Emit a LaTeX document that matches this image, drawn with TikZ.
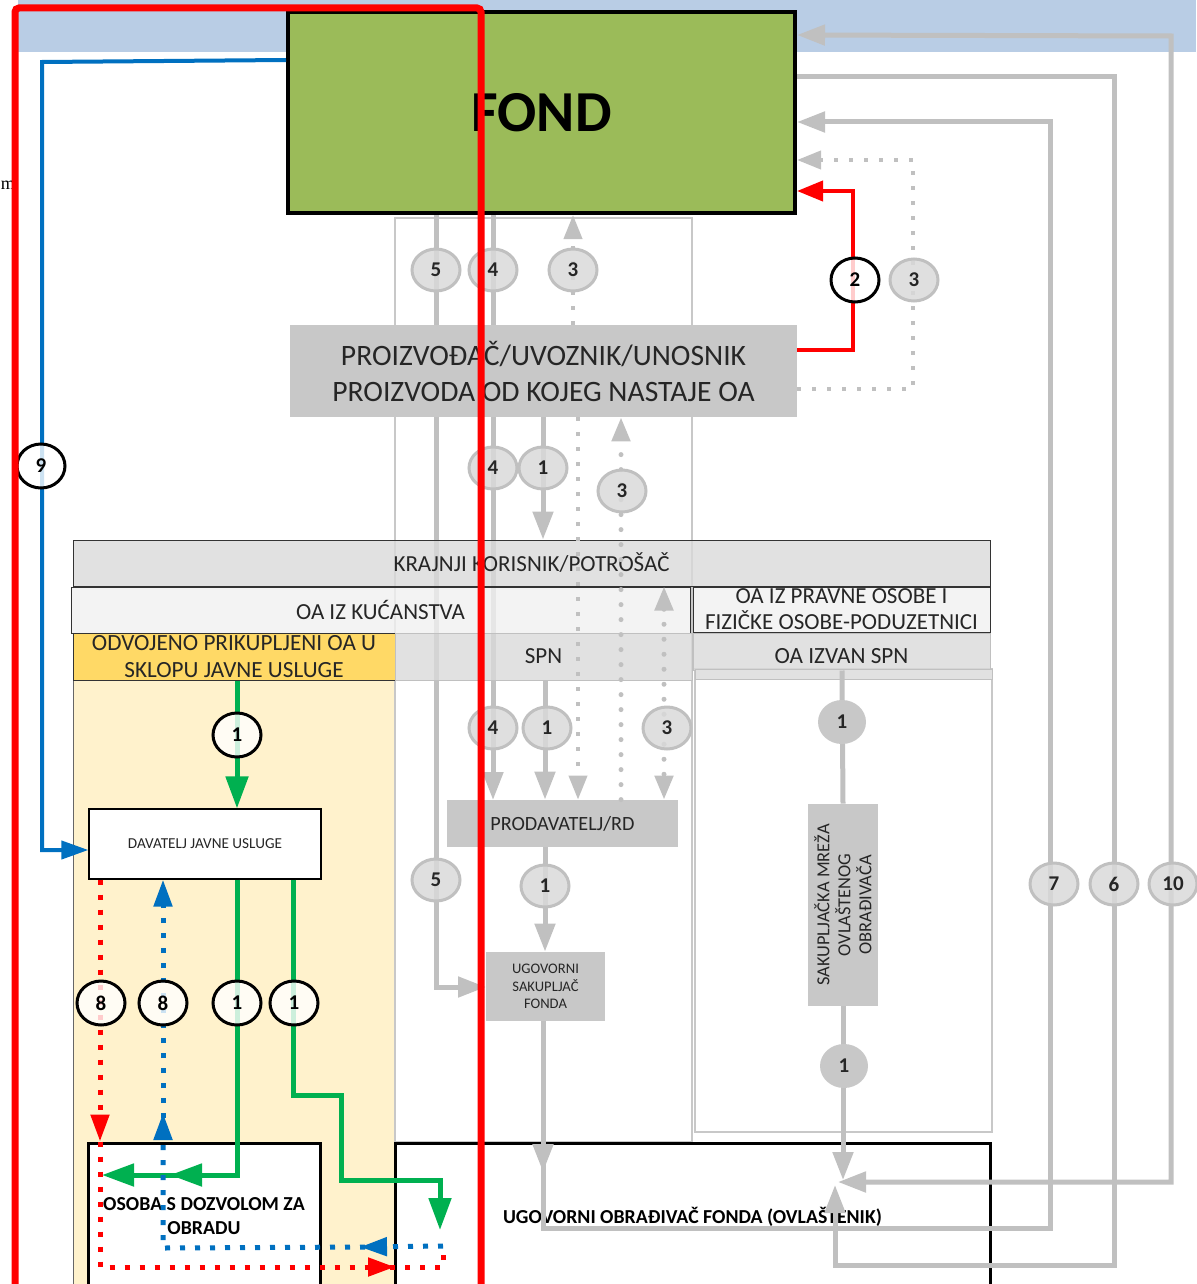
\documentclass[tikz,border=0pt]{standalone}
\usepackage{fontspec}
\setmainfont{Carlito}
\newfontfamily\timesf{Liberation Serif}
\usetikzlibrary{arrows.meta,shapes.geometric}
\definecolor{band}{HTML}{B9CDE5}
\definecolor{fondg}{HTML}{9BBB59}
\definecolor{boxg}{HTML}{C8C8C8}
\definecolor{barg}{HTML}{D9D9D9}
\definecolor{barl}{HTML}{F0F0F0}
\definecolor{yel}{HTML}{FFD966}
\definecolor{pyel}{HTML}{FFF2CC}
\definecolor{lg}{HTML}{C0C0C0}
\definecolor{cg}{HTML}{D9D9D9}
\definecolor{grn}{HTML}{00B050}
\definecolor{blu}{HTML}{0070C0}
\definecolor{txt}{HTML}{262626}
\definecolor{colline}{HTML}{C8C8C8}
\tikzset{
  GT/.tip={Triangle[width=10pt,length=14pt]},
  DT/.tip={Triangle[width=9pt,length=12pt]},
  GRT/.tip={Triangle[width=11pt,length=16pt]},
  BT/.tip={Triangle[width=9pt,length=13.5pt]},
  gl/.style={draw=lg,line width=2.5pt},
  gsq/.style={draw=lg,line width=2pt,dash pattern=on 2pt off 5.5pt},
  grd/.style={draw=lg,line width=2.5pt,line cap=round,dash pattern=on 0pt off 7.5pt},
  grl/.style={draw=grn,line width=2.5pt},
  bll/.style={draw=blu,line width=2pt},
  rdot/.style={draw=red,line width=2.5pt,dash pattern=on 2.5pt off 5pt},
  bdot/.style={draw=blu,line width=2.5pt,dash pattern=on 2.5pt off 5pt},
  numfont/.style={font=\bfseries\fontsize{10.5}{11}\selectfont},
  bc/.style={ellipse,draw=black,line width=1.5pt,fill=white,fill opacity=0.8,text opacity=1,minimum width=24pt,minimum height=22pt,inner sep=0pt,numfont,text=black},
  gc/.style={ellipse,draw=lg,line width=1.5pt,fill=cg,fill opacity=0.85,text opacity=1,minimum width=24pt,minimum height=21pt,inner sep=0pt,numfont,text=txt},
  fc/.style={ellipse,fill=boxg,minimum width=24pt,minimum height=22pt,inner sep=0pt,numfont,text=txt},
  bar/.style={draw=black!80,line width=0.5pt,inner sep=0pt,align=center,text=txt,font=\fontsize{11.5}{13.5}\selectfont,fill opacity=0.8,text opacity=1},
  gbox/.style={fill=boxg,inner sep=0pt,align=center,text=txt},
  wbox/.style={draw=black,line width=1.5pt,fill=white,inner sep=0pt,align=center,text=black,font=\bfseries\fontsize{9.9}{12}\selectfont},
}
\begin{document}
\begin{tikzpicture}[x=0.5pt,y=-0.5pt]
\useasboundingbox (0,0) rectangle (1196,1284);
% background band
\fill[band] (18,0) rectangle (1196,52);
\node[anchor=west,inner sep=0pt,font=\timesf\fontsize{9}{11}\selectfont] (mtext) at (0.5,185) {m};
% pale yellow column
\draw[draw=black!60,line width=0.5pt,fill=pyel] (73,680) rectangle (395,1300);
% column outlines
\draw[colline,line width=0.6pt] (395,218) rectangle (692,1142);
\draw[colline,line width=0.6pt] (695,669) rectangle (992,1132);
% FOND
\node[draw=black,line width=2pt,fill=fondg,minimum width=253.5pt,minimum height=100.5pt,inner sep=0pt,font=\bfseries\fontsize{29}{30}\selectfont] (fond) at (541.5,112.5) {FOND};
% lines behind the producer box
\draw[gl,-GT] (fond.south -| 436,0) -- (436,987) -- (486,987);
\draw[gl,-GT] (fond.south -| 493,0) -- (493,800);
% producer
\node[gbox,minimum width=253.5pt,minimum height=46pt,font=\fontsize{14.8}{18}\selectfont] (prod) at (543.5,371) {PROIZVOĐAČ/UVOZNIK/UNOSNIK\\PROIZVODA OD KOJEG NASTAJE OA};
% bars
\node[bar,fill=barg,minimum width=458.5pt,minimum height=23pt] (kraj) at (531.5,563) {KRAJNJI KORISNIK/POTROŠAČ};
\node[bar,fill=barl,minimum width=309.5pt,minimum height=23pt] (kuc) at (380.5,610) {OA IZ KUĆANSTVA};
\node[bar,fill=barl,minimum width=148.5pt,minimum height=22.5pt,font=\fontsize{11.5}{13}\selectfont] (prav) at (841.5,609.5) {OA IZ PRAVNE OSOBE I\\FIZIČKE OSOBE-PODUZETNICI};
\node[bar,fill=yel,fill opacity=1,minimum width=161pt,minimum height=23.5pt,font=\fontsize{11.6}{13.5}\selectfont] (odv) at (234,656.5) {ODVOJENO PRIKUPLJENI OA U\\SKLOPU JAVNE USLUGE};
\node[bar,draw=lg,fill=barg,minimum width=148.5pt,minimum height=23.5pt] (spn) at (543.5,656.5) {SPN};
\node[bar,draw=lg,fill=barg,minimum width=148.5pt,minimum height=18.5pt] (izvan) at (841.5,651.5) {};
\draw[draw=lg,line width=0.5pt,fill=barg!80] (695,669) rectangle (992,679);
\node[inner sep=0pt,text=txt,font=\fontsize{11.6}{13.5}\selectfont] (izvant) at (841.5,656) {OA IZVAN SPN};
% boxes
\node[gbox,minimum width=115.5pt,minimum height=23.5pt,font=\fontsize{10.1}{11}\selectfont] (prd) at (562.5,823.5) {PRODAVATELJ/RD};
\node[gbox,minimum width=59.5pt,minimum height=34.5pt,font=\fontsize{7.3}{8.75}\selectfont] (sak) at (545.5,986.5) {UGOVORNI\\SAKUPLJAČ\\FONDA};
\node[gbox,minimum width=35pt,minimum height=101pt] (mreza) at (843,905) {};
\node[rotate=90,align=center,inner sep=0pt,text=txt,font=\fontsize{9.2}{10.5}\selectfont] (mrezat) at (mreza.center) {SAKUPLJAČKA MREŽA\\OVLAŠTENOG\\OBRAĐIVAČA};
\node[draw=black,line width=0.6pt,fill=white,minimum width=116pt,minimum height=35pt,inner sep=0pt,text=txt,font=\fontsize{7.6}{8}\selectfont] (dav) at (205,844) {DAVATELJ JAVNE USLUGE};
\node[wbox,minimum width=116pt,minimum height=73.5pt] (osoba) at (204,1216.5) {OSOBA S DOZVOLOM ZA\\OBRADU};
\node[wbox,minimum width=297.5pt,minimum height=73.5pt] (obr) at (692.5,1216.5) {UGOVORNI OBRAĐIVAČ FONDA (OVLAŠTENIK)};
% hub coordinates
\coordinate (hubA) at (843,1180);
\coordinate (hubB) at (838,1182);
\coordinate (hubC) at (835,1185);
\coordinate (g2end) at (102,1175);
\coordinate (g3end) at (440,1230);
% gray flows in the middle column
\draw[gl,-GT] (prod.south -| 543,0) -- (kraj.north -| 543,0);
\draw[gl,-GT] (spn.south -| 545,0) -- (prd.north -| 545,0);
\draw[gl,-GT] (prd.south -| 545,0) -- (sak.north -| 545,0);
\draw[gsq,-DT] (prod.north -| 573,0) -- (fond.south -| 573,0);
\draw[gsq,-DT] (prod.south -| 578,0) -- (prd.north -| 578,0);
\draw[grd,-DT] (prd.north -| 621,0) -- (prod.south -| 621,0);
\draw[grd,DT-DT] (kuc.north -| 664,0) -- (prd.north -| 664,0);
% right side flows
\draw[gsq,-DT] (prod.east |- 0,389) -- (913,389) -- (913,160) -- (fond.east |- 0,160);
\draw[draw=red,line width=2pt,-{Triangle[width=10pt,length=13pt]}] (prod.east |- 0,350) -- (853,350) -- (853,191) -- (fond.east |- 0,191);
\draw[gl,-GT] (sak.south -| 543,0) -- (543,1172);
\draw[gl,-GT] (543,1162) -- (543,1228) -- (1050,1228) -- (1050,122) -- (fond.east |- 0,122);
\draw[gl,-GT] (fond.east |- 0,77) -- (1114,77) -- (1114,1265) -- (835,1265) -- (hubC);
\draw[gl,GT-GT] (fond.east |- 0,35) -- (1171,36) -- (1171,1182) -- (hubB);
\draw[gl] (izvan.south -| 842,0) -- (mreza.north);
\draw[gl,-GT] (mreza.south) -- (hubA);
% green flows
\draw[grl,-GRT] (odv.south -| 237,0) -- (dav.north -| 237,0);
\draw[grl,-GRT] (dav.south -| 237,0) -- (237,1175) -- (170,1175);
\draw[grl,-GRT] (180,1175) -- (g2end);
\draw[grl,-GRT] (dav.south -| 293,0) -- (293,1095) -- (341,1095) -- (341,1180) -- (440,1180) -- (g3end);
% red dotted
\draw[rdot,-BT] (dav.south -| 100,0) -- (osoba.north -| 100,0);
\draw[rdot,-BT] (osoba.north -| 100,0) -- (100,1267) -- (395,1267);
\draw[rdot] (390,1267) -- (443,1267) -- (443,1255);
% blue dotted
\draw[bdot,-BT] (443,1246) -- (360,1247);
\draw[bdot,-BT] (365,1247) -- (163,1248) -- (163,1113);
\draw[bdot,-BT] (163,1118) -- (dav.south -| 163,0);
% blue solid
\draw[bll,-BT] (fond.west |- 0,60) -- (42,62) -- (42,850) -- (dav.west |- 0,850);
% number circles
\node[bc] (c9) at (41,466) {9};
\node[bc] (c2) at (855,280) {2};
\node[gc] (c3r) at (914,280) {3};
\node[gc] (c5a) at (436,270) {5};
\node[gc] (c4a) at (493,270) {4};
\node[gc] (c3a) at (573,270) {3};
\node[gc] (c4b) at (493,468) {4};
\node[gc] (c1a) at (543,468) {1};
\node[gc] (c3b) at (622,491) {3};
\node[gc] (c4c) at (493,728) {4};
\node[gc] (c1b) at (547,728) {1};
\node[gc] (c3c) at (667,728) {3};
\node[gc] (c5b) at (436,880) {5};
\node[gc] (c1c) at (545,886) {1};
\node[fc] (c1d) at (842,722) {1};
\node[fc] (c1e) at (844,1066) {1};
\node[gc] (c7) at (1054,884) {7};
\node[gc] (c6) at (1114,884) {6};
\node[gc] (c10) at (1173,884) {10};
\node[bc] (c1f) at (237,735) {1};
\node[bc] (c8a) at (101,1003) {8};
\node[bc] (c8b) at (163,1003) {8};
\node[bc] (c1g) at (237,1003) {1};
\node[bc] (c1h) at (294,1003) {1};
% red frame line
\draw[red,line width=3.5pt,rounded corners=2pt] (15,1300) -- (15,8) -- (481,8) -- (481,1300);
\end{tikzpicture}
\end{document}
